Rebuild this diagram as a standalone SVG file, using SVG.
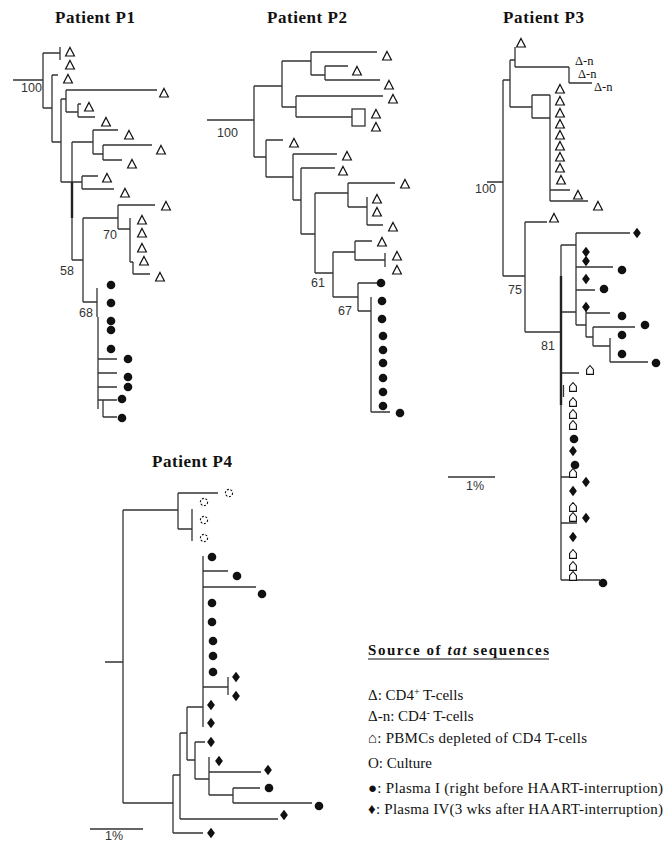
<svg xmlns="http://www.w3.org/2000/svg" width="665" height="844" viewBox="0 0 665 844">
<style>
.e{stroke:#333;stroke-width:1.3;fill:none}
.thick{stroke:#222;stroke-width:2.4;fill:none}
.bs{font-family:"Liberation Sans",Arial,sans-serif;font-size:12.5px;fill:#333}
.ttl{font-family:"Liberation Serif","Times New Roman",serif;font-weight:bold;font-size:17px;fill:#111}
.leg{font-family:"Liberation Serif","Times New Roman","DejaVu Serif",serif;font-size:15px;fill:#111}
.dn{font-family:"Liberation Serif","Times New Roman",serif;font-size:12.5px;fill:#111}
</style>
<defs>
<polygon id="tri" points="0,-4.6 4.4,4 -4.4,4" fill="#fff" stroke="#111" stroke-width="1.2"/>
<circle id="dot" r="4.3" fill="#111"/>
<polygon id="dia" points="0,-5.2 3.9,0 0,5.2 -3.9,0" fill="#111"/>
<polygon id="hse" points="-3.4,4.4 -3.4,-0.6 0,-4.5 3.4,-0.6 3.4,4.4" fill="#fff" stroke="#111" stroke-width="1.1"/>
<circle id="cul" r="3.6" fill="none" stroke="#111" stroke-width="1.1" stroke-dasharray="2,1.6"/>
</defs>
<rect width="665" height="844" fill="#fff"/>

<!-- Titles -->
<text class="ttl" x="55" y="23" textLength="80">Patient P1</text>
<text class="ttl" x="267" y="23" textLength="80">Patient P2</text>
<text class="ttl" x="503" y="23" textLength="81">Patient P3</text>
<text class="ttl" x="152" y="467" textLength="80">Patient P4</text>

<!-- Connectors -->
<g id="connectors">
<g id="p1-edges" class="e">
<path d="M13,80H43M43,53V108M43,53H60M60,47V60M43,108H52M52,75V142M52,75H58M52,142H61M61,99V182M61,99H66M66,90V112M66,90H157M66,112H78M78,104V117M78,104H81M78,117H95"/>
<path d="M72,142V260M72,142H93M93,130V154M93,130H118M93,154H103M103,145V160M103,145H152M103,160H122M61,182H82M82,176V189M82,176H98M82,189H114"/>
<path d="M72,260H83M83,218V302M83,218H118M118,205V229M118,205H155M118,229H130M130,218V262M130,262H133M133,262V274M133,274H150"/>
<path d="M83,302H97M97,288V317M98,317V409M98,359H117M98,373H117M98,387H117M98,400H103M103,400V417M103,400H117M103,417H117"/>
</g>
<path class="thick" d="M72,182V218"/>
<g id="p2-edges" class="e">
<path d="M207,120H254M254,86V157M254,86H282M282,61V107M282,61H311M311,52V75M311,52H377M311,75H325M325,66V80M325,66H348M325,80H380M282,107H296M296,96V117M296,96H383M296,117H352"/>
<rect x="352" y="109" width="13" height="17"/>
<path d="M254,157H266M266,140V177M266,140H283M266,177H293M293,154V200M293,154H337M293,200H301M301,168V234M301,168H335M301,234H315"/>
<path d="M315,193V273M315,193H348M348,183V207M348,183H395M348,207H367M367,197V225M367,225H383"/>
<path d="M315,273H333M333,252V297M333,252H355M355,241V260M355,241H372M355,260H385M385,253V267M333,297H358M358,283V311M358,283H377M358,311H371M371,297V412M371,412H390"/>
</g>
<g id="p3-edges" class="e">
<path d="M487,182H503M503,80V276M503,80H510M510,60V107M510,60H515M515,47V67M515,67H569M569,67V83M569,83H592M510,107H532M532,95V118M532,95H550M532,118H550M550,95V201M550,190H570M550,201H588"/>
<path d="M503,276H525M525,222V332M525,222H547M525,332H561M561,245V580M561,245H576M576,233V325M576,233H630M576,267H613M576,290H595M561,312H576M586,307V337M586,313H610M576,325H586M586,337H593M593,327V346M593,327H635M593,346H610M610,338V362M610,362H648"/>
<path d="M561,373H579M563.5,385V397M561,477H577M561,523H577M561,580H600"/>
</g>
<path class="thick" d="M561,276V405"/>
<g id="p4-edges" class="e">
<path d="M105,662H123M123,510V803M123,510H178M178,493V529M178,493H218M178,529H192M192,509V541"/>
<path d="M203,556V727M203,571H228M203,587H256M203,687H228M228,677V695"/>
<path d="M187,707H203M187,707V760M180,733H187M180,733V819M180,819H278M173,775H180M173,775V833M173,833H203M123,803H173"/>
<path d="M187,760H195M195,742V779M195,742H205M195,779H209M209,757V795M209,772H261M209,795H233M233,788V803M233,788H260M233,803H312"/>
</g>
<g id="scale-bars" class="e">
<path d="M448,477H495M90,829H143"/>
</g>
</g>

<!-- Bootstrap labels -->
<g id="bootstrap">
<text class="bs" x="21" y="92">100</text>
<text class="bs" x="103" y="239">70</text>
<text class="bs" x="60" y="275">58</text>
<text class="bs" x="79" y="317">68</text>
<text class="bs" x="217" y="137">100</text>
<text class="bs" x="311" y="287">61</text>
<text class="bs" x="338" y="315">67</text>
<text class="bs" x="475" y="193">100</text>
<text class="bs" x="508" y="294">75</text>
<text class="bs" x="541" y="350">81</text>
<text class="bs" x="466" y="490">1%</text>
<text class="bs" x="105" y="840">1%</text>
</g>

<!-- P1 leaves -->
<g id="p1-leaves">
<use href="#tri" x="70" y="52"/><use href="#tri" x="70" y="65"/><use href="#tri" x="68" y="79"/>
<use href="#tri" x="164" y="93"/><use href="#tri" x="89" y="107"/><use href="#tri" x="106" y="122"/>
<use href="#tri" x="129" y="135"/><use href="#tri" x="161" y="150"/><use href="#tri" x="132" y="164"/>
<use href="#tri" x="107" y="178"/><use href="#tri" x="125" y="193"/><use href="#tri" x="166" y="206"/>
<use href="#tri" x="142" y="220"/><use href="#tri" x="142" y="233"/><use href="#tri" x="142" y="248"/>
<use href="#tri" x="144" y="261"/><use href="#tri" x="160" y="277"/>
<use href="#dot" x="111" y="285"/><use href="#dot" x="111" y="303"/><use href="#dot" x="111" y="321"/>
<use href="#dot" x="111" y="330"/><use href="#dot" x="111" y="349"/><use href="#dot" x="128" y="359"/>
<use href="#dot" x="128" y="377"/><use href="#dot" x="128" y="387"/><use href="#dot" x="122" y="399"/>
<use href="#dot" x="122" y="418"/>
</g>

<!-- P2 leaves -->
<g id="p2-leaves">
<use href="#tri" x="387" y="56"/><use href="#tri" x="357" y="71"/><use href="#tri" x="389" y="85"/>
<use href="#tri" x="393" y="99"/><use href="#tri" x="376" y="114"/><use href="#tri" x="376" y="127"/>
<use href="#tri" x="294" y="143"/><use href="#tri" x="347" y="156"/><use href="#tri" x="343" y="171"/>
<use href="#tri" x="405" y="184"/><use href="#tri" x="377" y="199"/><use href="#tri" x="377" y="212"/>
<use href="#tri" x="393" y="227"/><use href="#tri" x="382" y="242"/><use href="#tri" x="397" y="256"/>
<use href="#tri" x="397" y="270"/>
<use href="#dot" x="381" y="283"/><use href="#dot" x="382" y="301"/><use href="#dot" x="382" y="319"/>
<use href="#dot" x="383" y="336"/><use href="#dot" x="383" y="350"/><use href="#dot" x="383" y="363"/>
<use href="#dot" x="383" y="378"/><use href="#dot" x="383" y="392"/><use href="#dot" x="383" y="406"/>
<use href="#dot" x="400" y="413"/>
</g>

<!-- P3 leaves -->
<g id="p3-leaves">
<use href="#tri" x="521" y="43"/>
<text class="dn" x="575" y="65">Δ-n</text>
<text class="dn" x="578" y="78">Δ-n</text>
<text class="dn" x="594" y="91">Δ-n</text>
<use href="#tri" x="560" y="89"/><use href="#tri" x="560" y="101"/><use href="#tri" x="560" y="113"/>
<use href="#tri" x="560" y="124"/><use href="#tri" x="560" y="135"/><use href="#tri" x="560" y="146"/>
<use href="#tri" x="560" y="157"/><use href="#tri" x="560" y="168"/><use href="#tri" x="561" y="180"/>
<use href="#tri" x="578" y="195"/><use href="#tri" x="598" y="206"/><use href="#tri" x="554" y="218"/>
<use href="#dia" x="637" y="233"/><use href="#dia" x="586" y="252"/><use href="#dia" x="586" y="261"/>
<use href="#dia" x="586" y="279"/><use href="#dia" x="586" y="307"/>
<use href="#dot" x="622" y="270"/><use href="#dot" x="604" y="289"/><use href="#dot" x="622" y="316"/>
<use href="#dot" x="645" y="325"/><use href="#dot" x="622" y="335"/><use href="#dot" x="622" y="354"/>
<use href="#dot" x="656" y="363"/>
<use href="#hse" x="590" y="370"/><use href="#hse" x="573" y="387"/><use href="#hse" x="573" y="402"/>
<use href="#hse" x="573" y="414"/><use href="#hse" x="573" y="425"/>
<use href="#dot" x="574" y="439"/><use href="#dia" x="573" y="451"/><use href="#dot" x="575" y="465"/>
<use href="#hse" x="573" y="473"/><use href="#dia" x="586" y="482"/><use href="#dia" x="573" y="491"/>
<use href="#hse" x="573" y="507"/><use href="#hse" x="573" y="517"/><use href="#dia" x="586" y="518"/>
<use href="#dia" x="573" y="537"/><use href="#hse" x="573" y="554"/><use href="#hse" x="573" y="566"/>
<use href="#hse" x="573" y="576"/><use href="#dot" x="603" y="583"/>
</g>

<!-- P4 leaves -->
<g id="p4-leaves">
<use href="#cul" x="229" y="493"/><use href="#cul" x="204" y="502"/><use href="#cul" x="204" y="520"/>
<use href="#cul" x="204" y="538"/>
<use href="#dot" x="212" y="557"/><use href="#dot" x="237" y="576"/><use href="#dot" x="262" y="594"/>
<use href="#dot" x="212" y="603"/><use href="#dot" x="212" y="622"/><use href="#dot" x="213" y="641"/>
<use href="#dot" x="213" y="656"/><use href="#dot" x="213" y="672"/>
<use href="#dia" x="236" y="677"/><use href="#dia" x="236" y="696"/><use href="#dia" x="211" y="705"/>
<use href="#dia" x="211" y="723"/><use href="#dia" x="211" y="742"/><use href="#dia" x="219" y="761"/>
<use href="#dia" x="268" y="770"/><use href="#dot" x="269" y="788"/><use href="#dot" x="319" y="806"/>
<use href="#dia" x="284" y="815"/><use href="#dia" x="211" y="833"/>
</g>

<!-- Legend -->
<g id="legend">
<text class="leg" x="368" y="655" font-weight="bold" font-size="16" textLength="181">Source of <tspan font-style="italic">tat</tspan> sequences</text>
<line x1="368" y1="659" x2="549" y2="659" stroke="#111" stroke-width="1.1"/>
<text class="leg" x="368" y="700">Δ: CD4<tspan font-size="10" dy="-5">+</tspan><tspan dy="5"> T-cells</tspan></text>
<text class="leg" x="368" y="721">Δ-n: CD4<tspan font-size="10" dy="-5">-</tspan><tspan dy="5"> T-cells</tspan></text>
<text class="leg" x="368" y="743" textLength="219">⌂: PBMCs depleted of CD4 T-cells</text>
<text class="leg" x="368" y="768" textLength="64">O: Culture</text>
<text class="leg" x="368" y="793" textLength="295">●: Plasma I (right before HAART-interruption)</text>
<text class="leg" x="368" y="814" textLength="295">♦: Plasma IV(3 wks after HAART-interruption)</text>
</g>
</svg>
